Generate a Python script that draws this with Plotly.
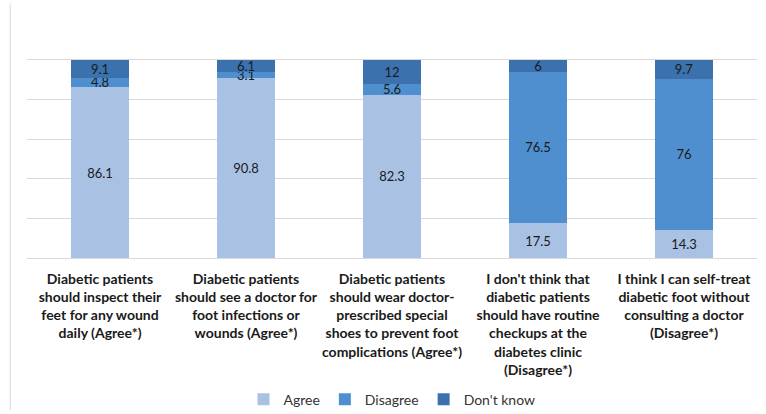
import plotly.graph_objects as go

categories = [
    "<b>Diabetic patients<br>should inspect their<br>feet for any wound<br>daily (Agree*)</b>",
    "<b>Diabetic patients<br>should see a doctor for<br>foot infections or<br>wounds (Agree*)</b>",
    "<b>Diabetic patients<br>should wear doctor-<br>prescribed special<br>shoes to prevent foot<br>complications (Agree*)</b>",
    "<b>I don't think that<br>diabetic patients<br>should have routine<br>checkups at the<br>diabetes clinic<br>(Disagree*)</b>",
    "<b>I think I can self-treat<br>diabetic foot without<br>consulting a doctor<br>(Disagree*)</b>",
]
agree = [86.1, 90.8, 82.3, 17.5, 14.3]
disagree = [4.8, 3.1, 5.6, 76.5, 76]
dont_know = [9.1, 6.1, 12, 6, 9.7]

series = [
    ("Agree", agree, "#a9c2e4"),
    ("Disagree", disagree, "#4f8fcf"),
    ("Don't know", dont_know, "#3b72ae"),
]

font_family = "Lato, Open Sans, sans-serif"

fig = go.Figure()
for name, vals, color in series:
    fig.add_trace(go.Bar(
        x=list(range(len(categories))), y=vals, name=name,
        marker=dict(color=color, line=dict(width=0)),
        text=[f"{v:g}" for v in vals], textposition="inside",
        insidetextanchor="middle", textangle=0,
        textfont=dict(color="#1a1a1a", size=13, family=font_family),
        constraintext="none",
    ))

fig.update_layout(
    barmode="stack",
    bargap=0.6,
    width=766, height=414,
    margin=dict(l=27, r=9, t=20, b=156, autoexpand=False),
    paper_bgcolor="white", plot_bgcolor="white",
    font=dict(family=font_family, size=14, color="#1a1a1a"),
    uniformtext=dict(minsize=13, mode="show"),
    showlegend=True,
    legend=dict(orientation="h", x=0.5, xanchor="center", y=-0.595, yanchor="middle",
                font=dict(size=14, color="#333333"), traceorder="normal",
                itemwidth=30, itemsizing="constant"),
    xaxis=dict(tickmode="array", tickvals=list(range(len(categories))), ticktext=categories,
               showline=True, linecolor="#d9d9d9", linewidth=1, ticks="", tickangle=0,
               ticklabelstandoff=8, automargin=False,
               range=[-0.5, 4.5], tickfont=dict(size=14, color="#1a1a1a")),
    yaxis=dict(range=[0, 120], dtick=20, showticklabels=False, showgrid=True,
               gridcolor="#d9d9d9", gridwidth=1, zeroline=False, automargin=False),
    shapes=[dict(type="line", xref="paper", yref="paper", x0=-0.023, x1=-0.023,
                 y0=-0.64, y1=1.07, line=dict(color="#d9d9d9", width=1))],
)

fig.write_html("out.html")
